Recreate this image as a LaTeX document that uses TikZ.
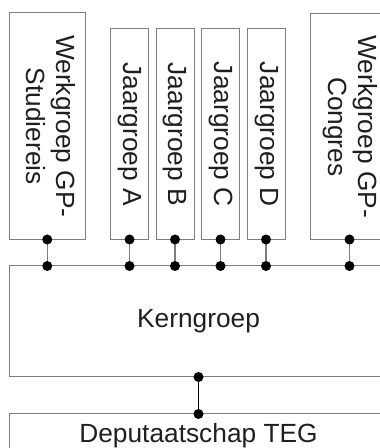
\documentclass[tikz,border=0pt]{standalone}
\usepackage{fontspec}
\setmainfont{Liberation Sans}
\usepackage{tikz}
\usetikzlibrary{positioning}
\definecolor{randgrijs}{RGB}{125,125,125}
\tikzstyle{groep} = [draw=randgrijs, line width=1pt, inner sep=0pt, outer sep=0pt, text centered, text=black!88, font=\fontsize{26.3}{30}\selectfont]
\tikzstyle{lijn} = [draw=randgrijs, line width=1.2pt]
\tikzstyle{hoofdlijn} = [draw=black, line width=1.4pt]
\newcommand{\staand}[1]{\rotatebox[origin=c]{-90}{\begin{tabular}{@{}c@{}}#1\end{tabular}}}

\begin{document}
\begin{tikzpicture}[x=1pt, y=1pt]
            \useasboundingbox (0,0) rectangle (380,448);
            \clip (0,0) rectangle (380,448);
            \node (stud) [groep, anchor = south west, minimum width = 75.5pt, minimum height = 226.5pt] at (9.5,208.5) {\staand{Werkgroep GP-\\Studiereis}};
            \node (jA) [groep, right = 25.5pt of stud.south east, anchor = south west, minimum width = 38pt, minimum height = 210.5pt] {\staand{Jaargroep A}};
            \node (jB) [groep, right = 7.5pt of jA.south east, anchor = south west, minimum width = 38pt, minimum height = 210.5pt] {\staand{Jaargroep B}};
            \node (jC) [groep, right = 7.5pt of jB.south east, anchor = south west, minimum width = 38pt, minimum height = 210.5pt] {\staand{Jaargroep C}};
            \node (jD) [groep, right = 7.5pt of jC.south east, anchor = south west, minimum width = 38pt, minimum height = 210.5pt] {\staand{Jaargroep D}};
            \node (cong) [groep, right = 25.5pt of jD.south east, anchor = south west, minimum width = 78pt, minimum height = 225.5pt] {\staand{Werkgroep GP-\\Congres}};
            
            \node (kern) [groep, below = 26.5pt of stud.south west, anchor = north west, minimum width = 378pt, minimum height = 111pt] {Kerngroep};
            \node (dep) [groep, below = 37pt of kern.south west, anchor = north west, minimum width = 378pt, minimum height = 44pt] {Deputaatschap TEG};
            
            \draw [lijn] (stud.south) -- (stud.south |- kern.north);
            \draw [lijn] (jA.south) -- (jA.south |- kern.north);
            \draw [lijn] (jB.south) -- (jB.south |- kern.north);
            \draw [lijn] (jC.south) -- (jC.south |- kern.north);
            \draw [lijn] (jD.south) -- (jD.south |- kern.north);
            \draw [lijn] (cong.south) -- (cong.south |- kern.north);
            \draw [hoofdlijn] (kern.south) -- (dep.north);
            
            \fill (stud.south) circle (5) (stud.south |- kern.north) circle (5);
            \fill (jA.south) circle (5) (jA.south |- kern.north) circle (5);
            \fill (jB.south) circle (5) (jB.south |- kern.north) circle (5);
            \fill (jC.south) circle (5) (jC.south |- kern.north) circle (5);
            \fill (jD.south) circle (5) (jD.south |- kern.north) circle (5);
            \fill (cong.south) circle (5) (cong.south |- kern.north) circle (5);
            \fill (kern.south) circle (5) (dep.north) circle (5);
        \end{tikzpicture}
\end{document}
